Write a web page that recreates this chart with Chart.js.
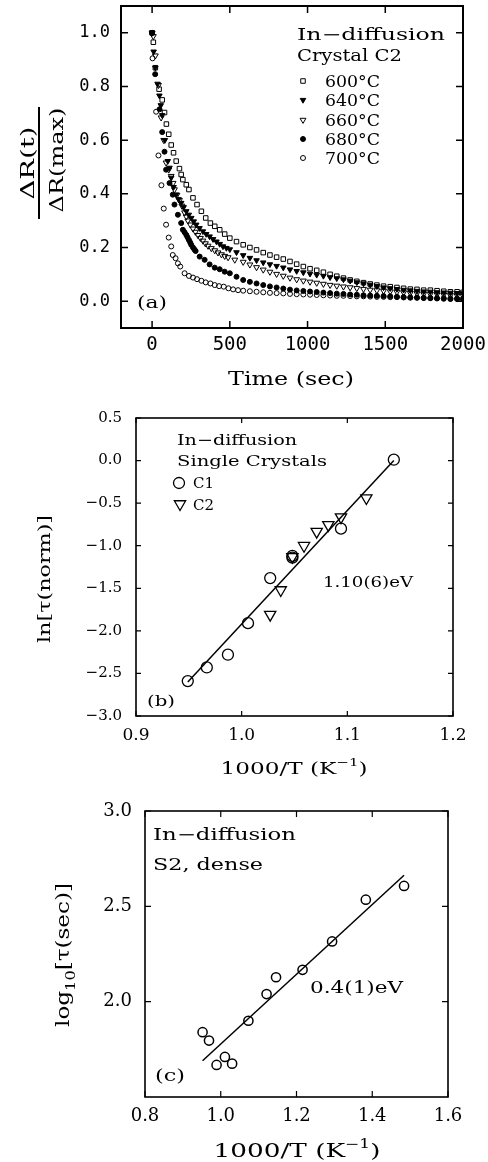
<!DOCTYPE html>
<html>
<head>
<meta charset="utf-8">
<script src="https://cdn.jsdelivr.net/npm/chart.js"></script>
<style>
  body { margin: 0; background: #fff; }
  canvas { position: absolute; left: 0; }
</style>
</head>
<body>
<canvas id="chart-a" width="488" height="400" style="top:0px"></canvas>
<canvas id="chart-b" width="488" height="390" style="top:400px"></canvas>
<canvas id="chart-c" width="488" height="372" style="top:790px"></canvas>
<script>
// (a) RELAXATION CURVES, CRYSTAL C2
const lateTimes = [586, 629, 672, 715, 758, 801, 844, 887, 930, 973, 1016, 1059, 1102, 1145, 1188,
  1231, 1274, 1317, 1360, 1403, 1446, 1489, 1532, 1575, 1618, 1661, 1704, 1747, 1790, 1833, 1876,
  1919, 1962, 2000];

const t600 = [0, 8, 21, 45, 65, 80, 92, 107, 123, 138, 155, 176, 187, 198, 220, 237, 263, 289,
  317, 345, 375, 403, 435, 467, 500, 543].concat(lateTimes);
const v600 = [1.0, 0.965, 0.87, 0.79, 0.75, 0.703, 0.66, 0.622, 0.582, 0.553, 0.522, 0.494, 0.472,
  0.453, 0.434, 0.416, 0.385, 0.36, 0.335, 0.31, 0.291, 0.279, 0.266, 0.25, 0.235, 0.222,
  0.21, 0.2, 0.191, 0.181, 0.172, 0.164, 0.157, 0.148, 0.138, 0.129, 0.121, 0.115, 0.108, 0.1,
  0.093, 0.086, 0.079, 0.074, 0.069, 0.064, 0.06, 0.056, 0.054, 0.051, 0.048, 0.045, 0.044,
  0.041, 0.041, 0.039, 0.037, 0.035, 0.035, 0.033];

const t640 = [0, 10, 21, 35, 47, 56, 65, 82, 101, 112, 123, 138, 155, 170, 187, 203, 220, 236,
  252, 268, 284, 305, 327, 348, 370, 392, 414, 435, 456, 478, 500, 543].concat(lateTimes);
const v640 = [1.0, 0.93, 0.87, 0.81, 0.766, 0.73, 0.693, 0.6, 0.522, 0.497, 0.46, 0.425, 0.397,
  0.38, 0.366, 0.35, 0.335, 0.322, 0.31, 0.297, 0.285, 0.272, 0.26, 0.25, 0.241, 0.231, 0.222,
  0.213, 0.204, 0.198, 0.193, 0.182,
  0.171, 0.161, 0.152, 0.144, 0.137, 0.131, 0.125, 0.118, 0.112, 0.107, 0.102, 0.098, 0.094,
  0.089, 0.085, 0.081, 0.076, 0.07, 0.066, 0.061, 0.056, 0.051, 0.048, 0.045, 0.042, 0.04,
  0.038, 0.036, 0.035, 0.033, 0.032, 0.031, 0.03, 0.029];

const t660 = [0, 8, 21, 41, 58, 75, 90, 107, 123, 135, 144, 160, 176, 192, 209, 220, 230, 246,
  263, 279, 295, 311, 327, 343, 360, 381, 403, 424, 446, 467, 489, 532].concat(lateTimes);
const v660 = [1.0, 0.987, 0.915, 0.805, 0.684, 0.6, 0.516, 0.49, 0.466, 0.44, 0.416, 0.396, 0.376,
  0.355, 0.33, 0.315, 0.3, 0.285, 0.27, 0.258, 0.246, 0.235, 0.225, 0.215, 0.206, 0.197, 0.189,
  0.181, 0.174, 0.168, 0.163, 0.154,
  0.146, 0.136, 0.126, 0.117, 0.109, 0.101, 0.094, 0.087, 0.081, 0.076, 0.072, 0.068, 0.064,
  0.06, 0.057, 0.054, 0.051, 0.048, 0.045, 0.042, 0.04, 0.038, 0.036, 0.034, 0.032, 0.03,
  0.029, 0.027, 0.026, 0.025, 0.024, 0.022, 0.021, 0.02];

const t680 = [0, 20, 48, 65, 80, 90, 112, 133, 144, 166, 187, 198, 209, 220, 228, 237, 245, 252,
  263, 272, 280, 306, 338, 370, 403, 435, 467, 500, 543].concat(lateTimes);
const v680 = [1.0, 0.846, 0.715, 0.63, 0.557, 0.49, 0.44, 0.397, 0.36, 0.322, 0.291, 0.266, 0.257,
  0.247, 0.238, 0.228, 0.219, 0.21, 0.2, 0.193, 0.187, 0.166, 0.154, 0.137, 0.125, 0.119, 0.11,
  0.104, 0.091,
  0.079, 0.072, 0.066, 0.06, 0.055, 0.051, 0.047, 0.043, 0.04, 0.038, 0.036, 0.034, 0.032,
  0.03, 0.028, 0.027, 0.025, 0.024, 0.022, 0.021, 0.02, 0.019, 0.018, 0.016, 0.015, 0.014,
  0.013, 0.012, 0.011, 0.01, 0.009, 0.008, 0.008, 0.007];

const t700 = [0, 3, 26, 41, 60, 75, 90, 107, 123, 133, 151, 166, 181, 209, 237, 263, 289, 317,
  345, 375, 403, 431, 461, 491, 521, 553].concat(lateTimes);
const v700 = [1.0, 0.905, 0.706, 0.543, 0.432, 0.345, 0.285, 0.237, 0.204, 0.172, 0.16, 0.141,
  0.129, 0.104, 0.094, 0.088, 0.082, 0.076, 0.07, 0.066, 0.06, 0.056, 0.054, 0.048, 0.044, 0.041,
  0.039, 0.037, 0.035, 0.033, 0.031, 0.03, 0.029, 0.027, 0.026, 0.025, 0.024, 0.023, 0.022,
  0.021, 0.02, 0.02, 0.019, 0.018, 0.018, 0.017, 0.016, 0.016, 0.015, 0.015, 0.014, 0.013,
  0.013, 0.012, 0.012, 0.011, 0.011, 0.01, 0.01, 0.01];

const aXTicks = [0, 500, 1000, 1500, 2000];
const aYTicks = [0, 0.2, 0.4, 0.6, 0.8, 1.0];

// (b) SINGLE CRYSTALS, ln tau vs 1000/T
const c1X = [1.144, 1.094, 1.048, 1.048, 1.027, 1.006, 0.987, 0.967, 0.949];
const c1Y = [0.01, -0.8, -1.12, -1.14, -1.38, -1.91, -2.28, -2.43, -2.59];
const c2X = [1.118, 1.094, 1.082, 1.071, 1.059, 1.048, 1.037, 1.027];
const c2Y = [-0.44, -0.665, -0.755, -0.834, -1.0, -1.13, -1.52, -1.81];
const fitBX = [0.949, 1.144];
const fitBY = [-2.6, 0.0];
const bXTicks = [0.9, 1.0, 1.1, 1.2];
const bYTicks = [-3.0, -2.5, -2.0, -1.5, -1.0, -0.5, 0.0, 0.5];

// (c) S2 DENSE, log10 tau vs 1000/T
const s2X = [1.484, 1.383, 1.294, 1.216, 1.146, 1.121, 1.073, 0.952, 0.969, 1.011, 0.989, 1.03];
const s2Y = [2.607, 2.535, 2.316, 2.167, 2.128, 2.04, 1.9, 1.84, 1.796, 1.71, 1.668, 1.675];
const fitCX = [0.952, 1.484];
const fitCY = [1.69, 2.663];
const cXTicks = [0.8, 1.0, 1.2, 1.4, 1.6];
const cYTicks = [2.0, 2.5, 3.0];

const SERIF = '"DejaVu Serif", "Liberation Serif", serif';
const MINUS = '\u2212';

function pts(xs, ys) {
  return xs.map((x, i) => ({ x: x, y: ys[i] }));
}

function fmt(v) {
  return v.toFixed(1).replace('-', MINUS);
}

// fixed-size axis so the plot box lands where it should
function axis(o) {
  return {
    type: 'linear',
    min: o.min,
    max: o.max,
    grid: { display: false, drawTicks: false },
    border: { display: false },
    afterBuildTicks: s => { s.ticks = o.ticks.map(v => ({ value: v })); },
    afterFit: s => {
      if (o.height !== undefined) s.height = o.height;
      if (o.width !== undefined) s.width = o.width;
      s.paddingLeft = 0; s.paddingRight = 0; s.paddingTop = 0; s.paddingBottom = 0;
    },
    ticks: {
      color: '#000',
      font: o.font,
      padding: o.pad,
      autoSkip: false,
      maxRotation: 0,
      callback: o.fmt
    }
  };
}

// box round the plot with inward ticks on all four sides
const frameTicks = {
  id: 'frameTicks',
  afterDatasetsDraw(chart, args, opts) {
    const { ctx, chartArea: { left, right, top, bottom }, scales: { x, y } } = chart;
    ctx.save();
    ctx.strokeStyle = '#000';
    ctx.lineWidth = opts.tickWidth;
    ctx.beginPath();
    x.ticks.forEach(t => {
      const px = x.getPixelForValue(t.value);
      ctx.moveTo(px, bottom); ctx.lineTo(px, bottom - opts.len);
      ctx.moveTo(px, top); ctx.lineTo(px, top + opts.len);
    });
    y.ticks.forEach(t => {
      const py = y.getPixelForValue(t.value);
      ctx.moveTo(left, py); ctx.lineTo(left + opts.len, py);
      ctx.moveTo(right, py); ctx.lineTo(right - opts.len, py);
    });
    ctx.stroke();
    ctx.lineWidth = opts.frameWidth;
    ctx.strokeRect(left, top, right - left, bottom - top);
    ctx.restore();
  }
};

// text made of runs [text, sizeFactor, dyFactor], stretched to a target width
function runs(ctx, list, x, y, o) {
  ctx.save();
  ctx.fillStyle = '#000';
  ctx.textAlign = 'left';
  ctx.textBaseline = 'alphabetic';
  let total = 0;
  const ws = list.map(r => {
    ctx.font = (o.size * (r[1] || 1)) + 'px ' + SERIF;
    const w = ctx.measureText(r[0]).width;
    total += w;
    return w;
  });
  const sx = o.width ? o.width / total : 1;
  ctx.translate(x, y);
  if (o.rotate) ctx.rotate(o.rotate);
  ctx.scale(sx, 1);
  let cx = o.center ? -total / 2 : 0;
  const base = o.mid ? o.size * 0.36 : 0;
  list.forEach((r, i) => {
    ctx.font = (o.size * (r[1] || 1)) + 'px ' + SERIF;
    ctx.fillText(r[0], cx, base + (r[2] || 0) * o.size);
    cx += ws[i];
  });
  ctx.restore();
}

function text(ctx, str, x, y, size, width) {
  runs(ctx, [[str]], x, y, { size: size, width: width });
}

function marker(ctx, ds, x, y) {
  ctx.save();
  ctx.fillStyle = ds.backgroundColor;
  ctx.strokeStyle = ds.borderColor;
  ctx.lineWidth = ds.borderWidth;
  Chart.helpers.drawPoint(ctx, {
    pointStyle: ds.pointStyle,
    rotation: ds.rotation || 0,
    radius: ds.pointRadius,
    borderWidth: ds.borderWidth
  }, x, y);
  ctx.restore();
}

const KINV = [['1000/T (K'], [MINUS + '1', 0.65, -0.45], [')']];

const base = {
  responsive: false,
  animation: false,
  devicePixelRatio: 1,
  events: [],
  plugins: { legend: { display: false }, tooltip: { enabled: false } }
};

// PANEL (a)
const notesA = {
  id: 'notesA',
  afterDraw(chart) {
    const ctx = chart.ctx;
    text(ctx, 'In' + MINUS + 'diffusion', 297, 40, 16, 148);
    text(ctx, 'Crystal C2', 297, 61, 16, 105);
    const rows = [87, 106, 126, 145, 164];
    chart.data.datasets.forEach((ds, i) => {
      marker(ctx, ds, 303, rows[i] - 6);
      text(ctx, ds.label, 325, rows[i], 16, 55);
    });
    text(ctx, '(a)', 137, 308, 17, 30);
    runs(ctx, [['Time (sec)']], 291, 378, { size: 19, width: 126, center: true, mid: true });
    // fraction label on the y axis
    const up = -Math.PI / 2;
    runs(ctx, [['\u0394R(t)']], 27, 163, { size: 19, width: 73, center: true, mid: true, rotate: up });
    runs(ctx, [['\u0394R(max)']], 56, 160, { size: 19, width: 105, center: true, mid: true, rotate: up });
    ctx.save();
    ctx.strokeStyle = '#000';
    ctx.lineWidth = 2;
    ctx.beginPath();
    ctx.moveTo(39, 107); ctx.lineTo(39, 219);
    ctx.stroke();
    ctx.restore();
  }
};

const chartA = new Chart(document.getElementById('chart-a'), {
  type: 'scatter',
  data: {
    datasets: [
      { label: '600\u00b0C', data: pts(t600, v600), pointStyle: 'rect', pointRadius: 3.2,
        borderColor: '#000', backgroundColor: 'rgba(0,0,0,0)', borderWidth: 1 },
      { label: '640\u00b0C', data: pts(t640, v640), pointStyle: 'triangle', rotation: 180, pointRadius: 3.2,
        borderColor: '#000', backgroundColor: '#000', borderWidth: 1 },
      { label: '660\u00b0C', data: pts(t660, v660), pointStyle: 'triangle', rotation: 180, pointRadius: 3.4,
        borderColor: '#000', backgroundColor: 'rgba(0,0,0,0)', borderWidth: 1 },
      { label: '680\u00b0C', data: pts(t680, v680), pointStyle: 'circle', pointRadius: 2.5,
        borderColor: '#000', backgroundColor: '#000', borderWidth: 1 },
      { label: '700\u00b0C', data: pts(t700, v700), pointStyle: 'circle', pointRadius: 2.5,
        borderColor: '#000', backgroundColor: 'rgba(0,0,0,0)', borderWidth: 1 }
    ]
  },
  options: Object.assign({}, base, {
    layout: { padding: { top: 6, right: 25, left: 0, bottom: 0 } },
    plugins: Object.assign({}, base.plugins, { frameTicks: { len: 7, tickWidth: 1.5, frameWidth: 2 } }),
    scales: {
      x: axis({ min: -200, max: 2000, ticks: aXTicks, height: 72, pad: 6,
        font: { family: '"DejaVu Sans Mono", monospace', size: 19 }, fmt: v => String(v) }),
      y: axis({ min: -0.1, max: 1.1, ticks: aYTicks, width: 121, pad: 11,
        font: { family: '"DejaVu Sans Mono", monospace', size: 17 }, fmt: fmt })
    }
  }),
  plugins: [frameTicks, notesA]
});

// PANEL (b)
const notesB = {
  id: 'notesB',
  afterDraw(chart) {
    const ctx = chart.ctx;
    text(ctx, 'In' + MINUS + 'diffusion', 177, 45, 15, 120);
    text(ctx, 'Single Crystals', 177, 66, 15, 150);
    marker(ctx, chart.data.datasets[0], 179, 83);
    text(ctx, chart.data.datasets[0].label, 193, 88, 15, 21);
    marker(ctx, chart.data.datasets[1], 180, 104);
    text(ctx, chart.data.datasets[1].label, 193, 110, 15, 21);
    text(ctx, '1.10(6)eV', 323, 187, 15, 90);
    text(ctx, '(b)', 147, 306, 15, 28);
    runs(ctx, KINV, 294, 368, { size: 17, width: 147, center: true, mid: true });
    runs(ctx, [['ln[\u03c4(norm)]']], 44, 179, { size: 17, width: 128, center: true, mid: true, rotate: -Math.PI / 2 });
  }
};

const chartB = new Chart(document.getElementById('chart-b'), {
  type: 'scatter',
  data: {
    datasets: [
      { label: 'C1', data: pts(c1X, c1Y), pointStyle: 'circle', pointRadius: 5.5,
        borderColor: '#000', backgroundColor: 'rgba(0,0,0,0)', borderWidth: 1.3 },
      { label: 'C2', data: pts(c2X, c2Y), pointStyle: 'triangle', rotation: 180, pointRadius: 6.5,
        borderColor: '#000', backgroundColor: 'rgba(0,0,0,0)', borderWidth: 1.3 },
      { label: 'fit', data: pts(fitBX, fitBY), showLine: true, pointRadius: 0,
        borderColor: '#000', borderWidth: 1.5 }
    ]
  },
  options: Object.assign({}, base, {
    layout: { padding: { top: 18, right: 35, left: 0, bottom: 0 } },
    plugins: Object.assign({}, base.plugins, { frameTicks: { len: 5, tickWidth: 1.2, frameWidth: 1.6 } }),
    scales: {
      x: axis({ min: 0.9, max: 1.2, ticks: bXTicks, height: 74, pad: 9,
        font: { family: SERIF, size: 17 }, fmt: fmt }),
      y: axis({ min: -3.0, max: 0.5, ticks: bYTicks, width: 136, pad: 14,
        font: { family: SERIF, size: 15 }, fmt: fmt })
    }
  }),
  plugins: [frameTicks, notesB]
});

// PANEL (c)
const notesC = {
  id: 'notesC',
  afterDraw(chart) {
    const ctx = chart.ctx;
    text(ctx, 'In' + MINUS + 'diffusion', 153, 50, 16, 143);
    text(ctx, 'S2, dense', 153, 80, 16, 110);
    text(ctx, '0.4(1)eV', 310, 203, 16, 93);
    text(ctx, '(c)', 155, 291, 16, 30);
    runs(ctx, KINV, 297, 360, { size: 19, width: 167, center: true, mid: true });
    runs(ctx, [['log'], ['10', 0.7, 0.3], ['[\u03c4(sec)]']], 63, 165,
      { size: 18, width: 144, center: true, mid: true, rotate: -Math.PI / 2 });
  }
};

const chartC = new Chart(document.getElementById('chart-c'), {
  type: 'scatter',
  data: {
    datasets: [
      { label: 'S2', data: pts(s2X, s2Y), pointStyle: 'circle', pointRadius: 4.6,
        borderColor: '#000', backgroundColor: 'rgba(0,0,0,0)', borderWidth: 1.5 },
      { label: 'fit', data: pts(fitCX, fitCY), showLine: true, pointRadius: 0,
        borderColor: '#000', borderWidth: 1.5 }
    ]
  },
  options: Object.assign({}, base, {
    layout: { padding: { top: 21, right: 40, left: 0, bottom: 0 } },
    plugins: Object.assign({}, base.plugins, { frameTicks: { len: 6, tickWidth: 1.2, frameWidth: 1.6 } }),
    scales: {
      x: axis({ min: 0.8, max: 1.6, ticks: cXTicks, height: 65, pad: 9,
        font: { family: SERIF, size: 18 }, fmt: fmt }),
      y: axis({ min: 1.5, max: 3.0, ticks: cYTicks, width: 145, pad: 13,
        font: { family: SERIF, size: 18 }, fmt: fmt })
    }
  }),
  plugins: [frameTicks, notesC]
});
</script>
</body>
</html>
